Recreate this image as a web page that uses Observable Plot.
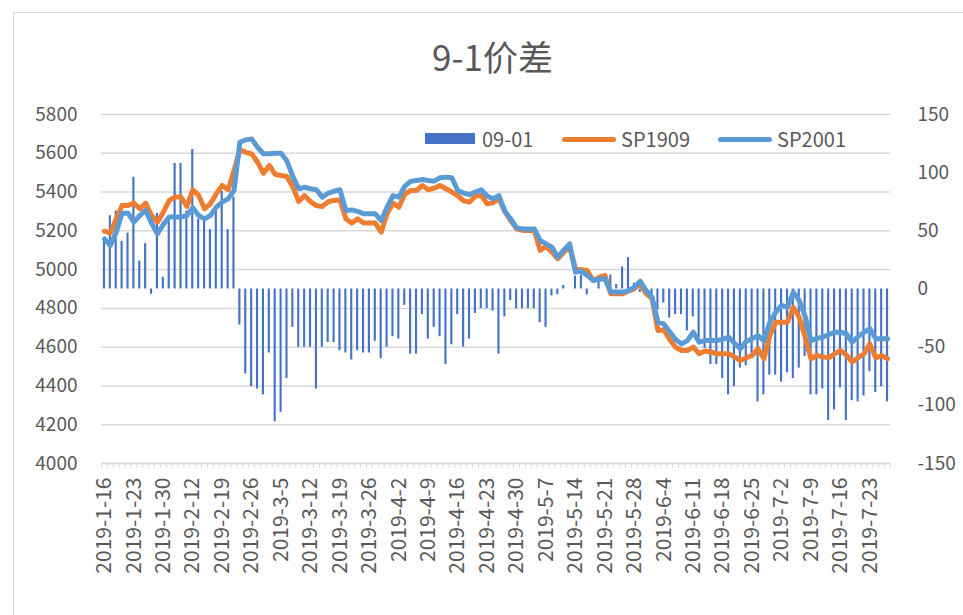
<!DOCTYPE html>
<html>
<head>
<meta charset="utf-8">
<script src="https://cdn.jsdelivr.net/npm/d3@7"></script>
<script src="https://cdn.jsdelivr.net/npm/@observablehq/plot@0.6"></script>
<style>
  body { margin: 0; background: #fff; }
  #wrap { position: relative; width: 963px; height: 615px; overflow: hidden; font-family: "Noto Sans CJK SC", "Noto Sans", sans-serif; color: #595959; }
  #frame { position: absolute; left: 13px; top: 12px; width: 980px; height: 640px; border: 1.5px solid #d9d9d9; box-sizing: border-box; }
  #chart { position: absolute; left: 0; top: 0; }
  #title { position: absolute; left: 0; width: 985px; top: 32px; text-align: center; font-size: 35px; line-height: 48px; }
  .leg { position: absolute; top: 126px; font-size: 20px; line-height: 26px; }
  .sw { position: absolute; }
</style>
</head>
<body>
<div id="wrap">
  <div id="frame"></div>
  <div id="chart"></div>
  <div id="title">9-1价差</div>
  <div class="sw" style="left:425px;top:133px;width:50px;height:11px;background:#4472C4"></div>
  <div class="leg" style="left:482px">09-01</div>
  <div class="sw" style="left:562px;top:137px;width:54px;height:5px;border-radius:3px;background:#ED7D31"></div>
  <div class="leg" style="left:621px">SP1909</div>
  <div class="sw" style="left:718px;top:137px;width:54px;height:5px;border-radius:3px;background:#5B9BD5"></div>
  <div class="leg" style="left:777px">SP2001</div>
</div>
<script>
// x tick labels (every 5th trading day)
const tickLabels = ["2019-1-16","2019-1-23","2019-1-30","2019-2-12","2019-2-19","2019-2-26","2019-3-5","2019-3-12","2019-3-19","2019-3-26","2019-4-2","2019-4-9","2019-4-16","2019-4-23","2019-4-30","2019-5-7","2019-5-14","2019-5-21","2019-5-28","2019-6-4","2019-6-11","2019-6-18","2019-6-25","2019-7-2","2019-7-9","2019-7-16","2019-7-23"];

// SP1909 (left axis)
const sp1909 = [5198,5188,5262,5331,5331,5343,5314,5343,5279,5245,5296,5357,5374,5374,5326,5412,5383,5314,5339,5391,
5434,5412,5511,5618,5605,5597,5554,5497,5537,5491,5485,5480,5425,5351,5382,5350,5330,5326,5350,5357,
5360,5262,5240,5262,5240,5240,5240,5193,5288,5343,5322,5390,5408,5408,5434,5412,5420,5434,5417,5400,
5382,5355,5348,5380,5382,5339,5345,5365,5300,5253,5210,5202,5202,5202,5099,5119,5090,5056,5090,5116,
5004,5000,4995,4944,4960,4970,4876,4876,4876,4890,4901,4930,4876,4850,4686,4690,4640,4600,4583,4583,
4600,4566,4580,4575,4566,4566,4566,4550,4531,4545,4557,4592,4540,4660,4729,4729,4729,4806,4755,4652,
4540,4557,4550,4545,4565,4583,4560,4523,4545,4566,4617,4545,4557,4540];

// SP2001 (left axis)
const sp2001 = [5159,5124,5193,5291,5291,5245,5279,5305,5240,5184,5233,5271,5271,5271,5279,5319,5279,5262,5279,5322,
5348,5365,5408,5657,5669,5674,5631,5597,5597,5600,5600,5560,5480,5417,5425,5417,5412,5374,5394,5404,
5412,5305,5308,5300,5288,5288,5288,5253,5322,5382,5374,5430,5455,5460,5465,5460,5456,5474,5477,5474,
5408,5395,5387,5400,5412,5380,5365,5382,5300,5262,5215,5210,5210,5210,5150,5133,5116,5064,5100,5133,
4987,4992,4970,4944,4950,4953,4884,4884,4884,4892,4910,4940,4892,4858,4729,4720,4680,4640,4617,4634,
4677,4626,4634,4634,4634,4640,4652,4620,4592,4630,4643,4660,4634,4729,4780,4815,4806,4884,4841,4760,
4634,4645,4652,4665,4677,4677,4669,4626,4655,4677,4695,4643,4643,4643];

// 09-01 spread (right axis)
const spread0901 = [44,63,67,41,48,96,24,39,-4.5,65,10,63,108,108,67,120,60,58,51,67,
84,51,79,-31,-73,-84,-86,-91,-55,-114,-106,-77,-33,-50,-50,-50,-86,-50,-46,-46,
-53,-55,-61,-53,-55,-55,-45,-60,-50,-41,-43,-14,-56,-56,-22,-43,-33,-41,-65,-48,
-22,-50,-43,-21,-17,-17,-19,-56,-24,-10,-17,-17,-17,-17,-29,-33,-6,-5,3,0,
11,12,-5,0,7,0,12,4,19,27,5,-3,-5,-10,-18,-12,-25,-22,-22,-36,
-24,-46,-51,-65,-65,-77,-91,-84,-68,-66,-58,-97,-91,-74,-74,-80,-72,-77,-68,-58,
-91,-91,-86,-113,-104,-85,-113,-96,-97,-92,-71,-89,-84,-97];

const leftTicks = [4000,4200,4400,4600,4800,5000,5200,5400,5600,5800];
const rightTicks = [-150,-100,-50,0,50,100,150];

// right axis [-150,150] maps onto left axis [4000,5800]
const toLeft = v => 4900 + v * 6;
const fromLeft = y => String(Math.round((y - 4900) / 6));

const n = sp1909.length;
const rows = d3.range(n).map(i => ({i, a: sp1909[i], b: sp2001[i], s: spread0901[i]}));
const labelIdx = tickLabels.map((_, k) => k * 5);
const bounds = d3.range(n + 1).map(i => i - 0.5);
const font = "Noto Sans CJK SC";

const chart = Plot.plot({
  width: 963,
  height: 615,
  marginLeft: 101,
  marginRight: 73,
  marginTop: 114,
  marginBottom: 152,
  style: {fontFamily: font, background: "transparent", overflow: "visible"},
  x: {type: "linear", domain: [-0.5, n - 0.5]},
  y: {domain: [4000, 5800]},
  marks: [
    Plot.gridY(leftTicks, {stroke: "#d9d9d9", strokeOpacity: 1, strokeWidth: 1.5}),
    Plot.axisY(leftTicks, {anchor: "left", tickSize: 0, tickPadding: 24, fontSize: 19, color: "#595959", label: null, tickFormat: d => String(d)}),
    Plot.axisY(rightTicks.map(toLeft), {anchor: "right", tickSize: 0, tickPadding: 27, fontSize: 19, color: "#595959", label: null, textAnchor: "start", tickFormat: fromLeft}),
    Plot.axisX(bounds, {tickSize: 5, tickFormat: () => "", stroke: "#d9d9d9", strokeOpacity: 1, label: null}),
    Plot.axisX(labelIdx, {tickSize: 0, tickPadding: 14, tickRotate: -90, fontSize: 21, color: "#595959", tickFormat: i => tickLabels[i / 5], label: null}),
    Plot.rectY(rows, {x1: d => d.i - 0.18, x2: d => d.i + 0.18, y1: toLeft(0), y2: d => toLeft(d.s), fill: "#4472C4"}),
    Plot.ruleY([4000], {stroke: "#d9d9d9", strokeWidth: 1.5}),
    Plot.line(rows, {x: "i", y: "a", stroke: "#ED7D31", strokeWidth: 5, strokeLinejoin: "round", strokeLinecap: "round"}),
    Plot.line(rows, {x: "i", y: "b", stroke: "#5B9BD5", strokeWidth: 5, strokeLinejoin: "round", strokeLinecap: "round"})
  ]
});
document.getElementById("chart").appendChild(chart);
</script>
</body>
</html>
